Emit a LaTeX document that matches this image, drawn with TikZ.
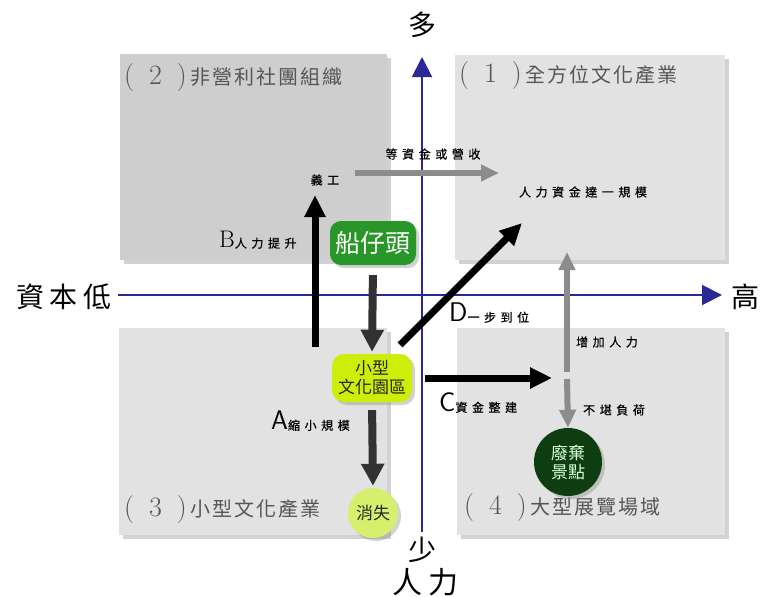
\documentclass[tikz,border=0pt]{standalone}
\usepackage{fontspec}
\usetikzlibrary{arrows.meta,shadows,shapes.geometric}
\newfontfamily\cjk{Noto Sans CJK TC}
\newfontfamily\cjkls[LetterSpace=38,FakeBold=0.6]{Noto Sans CJK TC}
\newfontfamily\cjkax[LetterSpace=20]{Noto Sans CJK TC}
\newfontfamily\cjkq[LetterSpace=10]{Noto Sans CJK TC}
\definecolor{axisblue}{RGB}{42,42,150}
\definecolor{qdark}{RGB}{206,206,206}
\definecolor{qlight}{RGB}{226,226,226}
\definecolor{titlegray}{RGB}{85,85,85}
\definecolor{shipgreen}{RGB}{40,150,40}
\definecolor{lime}{RGB}{204,238,10}
\definecolor{palelime}{RGB}{214,240,110}
\definecolor{darkgreen}{RGB}{14,62,16}
\definecolor{arrowdark}{RGB}{50,50,50}
\definecolor{arrowgray}{RGB}{140,140,140}
\newcommand{\qnum}[1]{{\rmfamily\fontsize{28}{28}\selectfont(\hspace{15pt}#1\hspace{15pt})}\hspace{4pt}}
\tikzset{
  qbox/.style={draw=none, inner sep=0pt,
    drop shadow={shadow xshift=4pt, shadow yshift=-4pt, opacity=0.35}},
  qtitle/.style={anchor=west, inner sep=0pt, text=titlegray, font=\cjkq\fontsize{20}{20}\selectfont},
  axislabel/.style={inner sep=0pt, font=\cjkax\fontsize{28}{28}\selectfont},
  axisarrow/.style={draw=axisblue, line width=2pt, -{Triangle[width=20pt,length=20pt]}},
  smalllabel/.style={inner sep=0pt, font=\cjkls\fontsize{12}{12}\selectfont},
  blackarrow/.style={draw=black, line width=7pt, -{Triangle[width=20pt,length=22pt]}},
  darkarrow/.style={draw=arrowdark, line width=8pt, -{Triangle[width=22pt,length=22pt]}},
  grayarrow/.style={draw=arrowgray, line width=6pt, -{Triangle[width=16pt,length=18pt]}},
  letterlabel/.style={anchor=west, inner sep=0pt},
  nodeshadow/.style={drop shadow={shadow xshift=3pt, shadow yshift=-3pt, opacity=0.35}}
}
\begin{document}
\begin{tikzpicture}[x=1pt,y=-1pt]
\useasboundingbox (0,0) rectangle (763,597);
\fill[white] (0,0) rectangle (763,597);
% quadrant boxes
\node[qbox, fill=qdark, minimum width=267pt, minimum height=206pt] (q2) at (253.5,157) {};
\node[qbox, fill=qlight, minimum width=270pt, minimum height=205pt] (q1) at (590,157.5) {};
\node[qbox, fill=qlight, minimum width=268pt, minimum height=207pt] (q3) at (253,431.5) {};
\node[qbox, fill=qlight, minimum width=268pt, minimum height=207pt] (q4) at (591,431.5) {};
% quadrant titles
\node[qtitle] (t2) at (124,78) {\qnum{2}非營利社團組織};
\node[qtitle] (t1) at (459,76) {\qnum{1}全方位文化產業};
\node[qtitle] (t3) at (124,510) {\qnum{3}小型文化產業};
\node[qtitle] (t4) at (464,508) {\qnum{4}大型展覽場域};
% axes
\coordinate (xl) at (118,295);
\coordinate (xr) at (722,295);
\coordinate (yt) at (422,57);
\coordinate (yb) at (422,532);
\draw[axisarrow] (xl) -- (xr);
\draw[axisarrow] (yb) -- (yt);
\node[axislabel] (lowcap) at (64,297) {資本低};
\node[axislabel] (highcap) at (745,297) {高};
\node[axislabel] (many) at (422,25) {多};
\node[axislabel] (few) at (422,550) {少};
\node[axislabel, font=\cjkax\fontsize{30}{30}\selectfont] (manpower) at (425,582) {人力};
% main nodes
\node[nodeshadow, fill=shipgreen, rounded corners=11pt, minimum width=86pt, minimum height=44pt, inner sep=0pt,
      text=white, font=\cjk\fontsize{25}{25}\selectfont] (ship) at (373,243) {船仔頭};
\node[nodeshadow, fill=lime, rounded corners=12pt, minimum width=80pt, minimum height=48pt, inner sep=0pt,
      text=black!85, align=center, font=\cjk\fontsize{17}{19}\selectfont] (park) at (372,378) {小型\\文化園區};
\node[nodeshadow, circle, fill=palelime, minimum size=50pt, inner sep=0pt,
      text=black!85, font=\cjk\fontsize{17}{17}\selectfont] (vanish) at (373,513) {消失};
\node[nodeshadow, circle, fill=darkgreen, minimum size=68pt, inner sep=0pt, align=center,
      text=white!85!green, font=\cjk\fontsize{17}{19}\selectfont] (waste) at (568,462) {廢棄\\景點};
% arrows
\coordinate (bs) at (315,347);
\coordinate (be) at (315,195);
\draw[blackarrow] (bs) -- (be);
\draw[darkarrow, shorten <=10pt, shorten >=2pt] (ship.south) -- (park.north);
\draw[darkarrow, shorten <=8pt, shorten >=2pt] (park.south) -- (vanish.north);
\coordinate (ds) at (400,345);
\coordinate (de) at (522,223);
\draw[blackarrow] (ds) -- (de);
\coordinate (cs) at (425,378);
\coordinate (ce) at (552,378);
\draw[blackarrow] (cs) -- (ce);
\coordinate (us) at (567,372);
\coordinate (ue) at (567,252);
\draw[grayarrow] (us) -- (ue);
\coordinate (ds2) at (567,379);
\draw[grayarrow] (ds2) -- (waste.north);
\coordinate (fs) at (355,173);
\coordinate (fe) at (499,173);
\draw[grayarrow] (fs) -- (fe);
% labels
\node[smalllabel] (volunteer) at (325,180) {義工};
\node[smalllabel] (wait) at (433,154) {等資金或營收};
\node[smalllabel] (scale) at (583,192) {人力資金達一規模};
\node[smalllabel] (addpw) at (607,342) {增加人力};
\node[smalllabel] (overload) at (614,410) {不堪負荷};
\node[letterlabel] (lb) at (219,240) {{\rmfamily\fontsize{24}{24}\selectfont B}{\cjkls\fontsize{12}{12}\selectfont 人力提升}};
\node[letterlabel] (la) at (271,421) {{\sffamily\fontsize{27}{27}\selectfont A}{\cjkls\fontsize{12}{12}\selectfont 縮小規模}};
\node[letterlabel] (lc) at (439,403) {{\sffamily\fontsize{27}{27}\selectfont C}{\cjkls\fontsize{12}{12}\selectfont 資金整建}};
\node[letterlabel] (ld) at (449,313) {{\sffamily\fontsize{27}{27}\selectfont D}{\cjkls\fontsize{12}{12}\selectfont 一步到位}};
\end{tikzpicture}
\end{document}
